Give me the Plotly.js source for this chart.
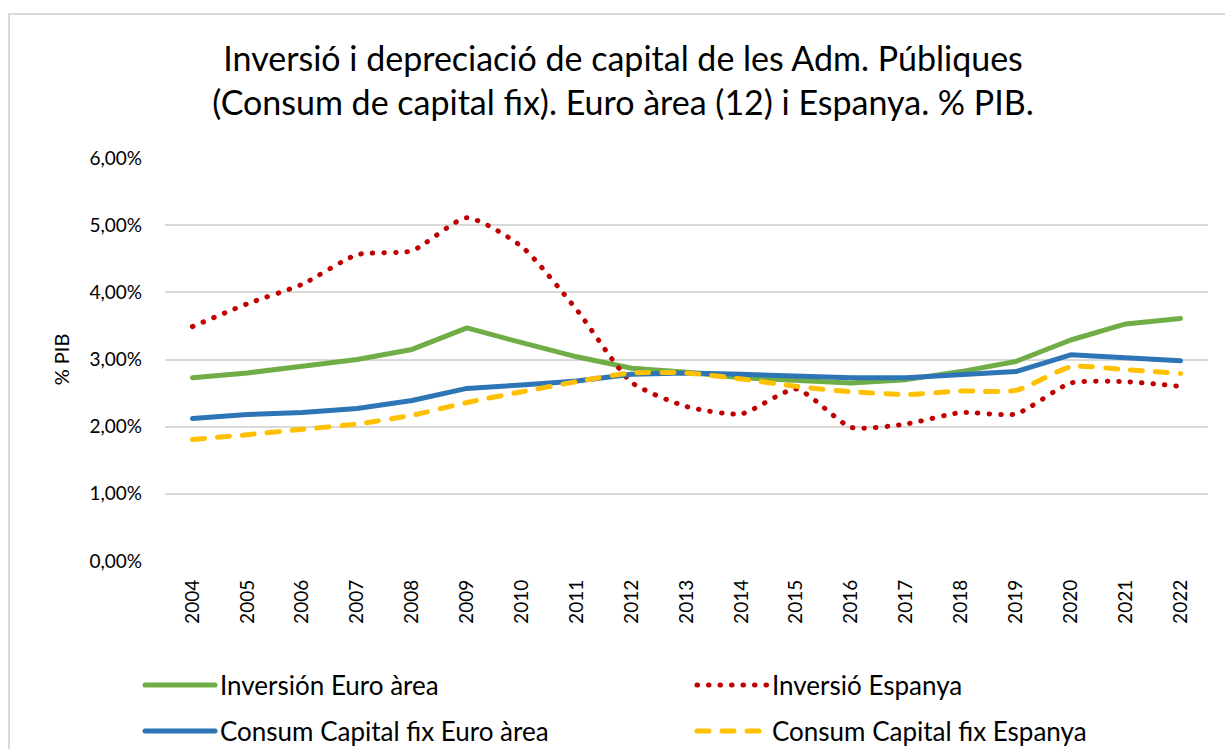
<!DOCTYPE html>
<html>
<head>
<meta charset="utf-8">
<script src="https://cdn.plot.ly/plotly-3.0.1.min.js"></script>
<style>
html,body{margin:0;padding:0;background:#fff;}
#wrap{position:relative;width:1225px;height:749px;overflow:hidden;}
#chart{width:1225px;height:749px;}
#frame{position:absolute;left:8px;top:13px;width:1240px;height:760px;border:2px solid #d9d9d9;pointer-events:none;box-sizing:border-box;}
#chart path.js-line{stroke-linecap:round;stroke-linejoin:round;}
</style>
</head>
<body>
<div id="wrap"><div id="chart"></div><div id="frame"></div></div>
<script>
const years = ["2004","2005","2006","2007","2008","2009","2010","2011","2012","2013","2014","2015","2016","2017","2018","2019","2020","2021","2022"];
const invEuro = [2.73,2.80,2.90,3.00,3.15,3.47,3.25,3.04,2.87,2.81,2.73,2.69,2.65,2.70,2.82,2.97,3.29,3.53,3.61];
const invEsp = [3.49,3.83,4.12,4.56,4.62,5.11,4.68,3.74,2.66,2.30,2.19,2.56,1.99,2.04,2.21,2.19,2.65,2.67,2.60];
const ccfEuro = [2.12,2.18,2.21,2.27,2.39,2.57,2.62,2.68,2.78,2.80,2.78,2.75,2.73,2.73,2.77,2.82,3.07,3.03,2.98];
const ccfEsp = [1.81,1.88,1.96,2.04,2.17,2.36,2.52,2.67,2.80,2.80,2.71,2.60,2.52,2.48,2.53,2.54,2.89,2.85,2.79];
const names = ["Inversión Euro àrea","Inversió Espanya","Consum Capital fix Euro àrea","Consum Capital fix Espanya"];
const yTicks = [0,1,2,3,4,5,6];
const yTickText = yTicks.map(v => v.toFixed(2).replace('.', ',') + '%');

const FONT = "Lato, 'Open Sans', sans-serif";
const traces = [
  {x: years, y: invEuro, name: names[0], type: 'scatter', mode: 'lines',
   line: {color: '#70AD47', width: 5}, legend: 'legend'},
  {x: years, y: invEsp, name: names[1], type: 'scatter', mode: 'lines',
   line: {color: '#C00000', width: 5, dash: '0.5px,11px', shape: 'spline', smoothing: 0.6}, legend: 'legend2'},
  {x: years, y: ccfEuro, name: names[2], type: 'scatter', mode: 'lines',
   line: {color: '#2E75B6', width: 5}, legend: 'legend3'},
  {x: years, y: ccfEsp, name: names[3], type: 'scatter', mode: 'lines',
   line: {color: '#FFC000', width: 5, dash: '12px,13px', shape: 'spline', smoothing: 0.6}, legend: 'legend4'}
];

function leg(px, py) {
  return {orientation: 'h', xref: 'container', yref: 'container', x: px/1225, xanchor: 'left',
          y: 1 - py/749, yanchor: 'middle', itemwidth: 70,
          font: {size: 26, family: FONT, color: '#000'}, bgcolor: 'rgba(0,0,0,0)'};
}

const layout = {
  width: 1225, height: 749,
  paper_bgcolor: '#ffffff', plot_bgcolor: '#ffffff',
  margin: {l: 165, r: 17, t: 158, b: 188},
  font: {family: FONT, color: '#000', size: 19},
  title: {text: 'Inversió i depreciació de capital de les Adm. Públiques<br>(Consum de capital fix). Euro àrea (12) i Espanya. % PIB.',
          font: {family: FONT, size: 34, color: '#000'}, x: 0.5086, xanchor: 'center', y: 0.905, yanchor: 'middle'},
  xaxis: {type: 'category', range: [-0.5, years.length - 0.5], tickangle: -90, showgrid: false, zeroline: false, showline: false,
          ticks: '', ticklabelstandoff: 14, tickfont: {size: 19, family: FONT}},
  yaxis: {range: [0, 6], tickmode: 'array', tickvals: yTicks, ticktext: yTickText,
          showgrid: true, gridcolor: '#d9d9d9', gridwidth: 2, zeroline: false, showline: false,
          ticks: '', ticklabelstandoff: 22, tickfont: {size: 19, family: FONT},
          title: {text: '% PIB', font: {size: 20, family: FONT}, standoff: 14}},
  legend: leg(140, 685),
  legend2: leg(692, 685),
  legend3: leg(140, 731),
  legend4: leg(692, 731),
  showlegend: true
};

Plotly.newPlot('chart', traces, layout, {displayModeBar: false, staticPlot: true});
</script>
</body>
</html>
